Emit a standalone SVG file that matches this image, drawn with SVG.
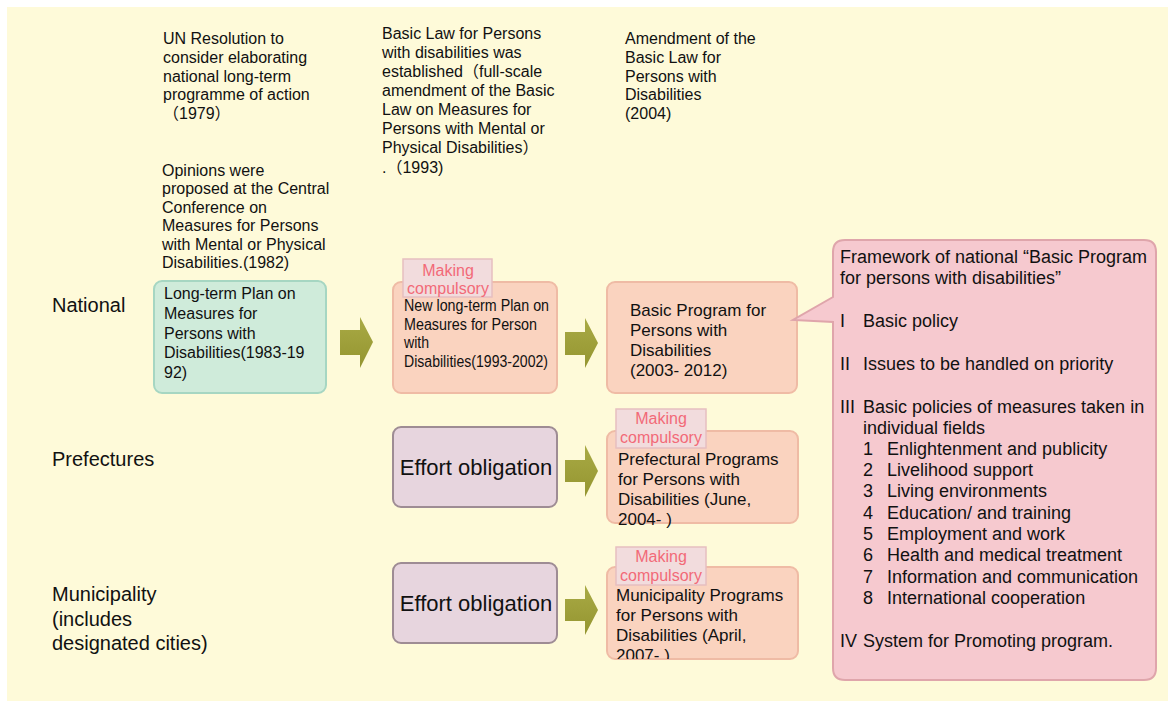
<svg xmlns="http://www.w3.org/2000/svg" width="1174" height="708" viewBox="0 0 1174 708">
<defs>
<style>
text{font-family:"Liberation Sans","Noto Sans CJK JP",Arial,sans-serif;fill:#111;}
.t16{font-size:16px;}
.t17{font-size:17px;}
.t18{font-size:18px;}
.t20{font-size:20px;}
.t22{font-size:22px;}
.green{fill:#CFEBDA;stroke:#A6D6C2;stroke-width:2;}
.peach{fill:#FAD3BF;stroke:#EFBBA5;stroke-width:2;}
.effort{fill:#E7D5DE;stroke:#9E8C94;stroke-width:2;}
.tag{fill:#F2DCDD;stroke:#E6BFC0;stroke-width:1.5;}
.tagt{font-size:16px;fill:#F26A78;text-anchor:middle;}
.callout{fill:#F6C9CF;stroke:#DFA5AB;stroke-width:2;}
.arrow{fill:url(#olive);}
</style>
<linearGradient id="olive" x1="0" y1="0" x2="0" y2="1">
<stop offset="0" stop-color="#A9AA45"/>
<stop offset="1" stop-color="#949530"/>
</linearGradient>
<clipPath id="muniClip"><rect x="600" y="560" width="210" height="99"/></clipPath>
</defs>
<rect x="0" y="0" width="1174" height="708" fill="#FFFFFF"/>
<rect x="7" y="7" width="1161" height="694" fill="#FEFAD9"/>

<g id="note-un">
<text class="t16" x="163" y="44">UN Resolution to</text>
<text class="t16" x="163" y="63">consider elaborating</text>
<text class="t16" x="163" y="82">national long-term</text>
<text class="t16" x="163" y="100">programme of action</text>
<text class="t16" x="163" y="119">（1979）</text>
</g>
<g id="note-opinions">
<text class="t16" x="162" y="176">Opinions were</text>
<text class="t16" x="162" y="194">proposed at the Central</text>
<text class="t16" x="162" y="213">Conference on</text>
<text class="t16" x="162" y="231">Measures for Persons</text>
<text class="t16" x="162" y="250">with Mental or Physical</text>
<text class="t16" x="162" y="268">Disabilities.(1982)</text>
</g>
<g id="note-basic-law">
<text class="t16" x="382" y="39">Basic Law for Persons</text>
<text class="t16" x="382" y="58">with disabilities was</text>
<text class="t16" x="382" y="77">established（full-scale</text>
<text class="t16" x="382" y="96">amendment of the Basic</text>
<text class="t16" x="382" y="115">Law on Measures for</text>
<text class="t16" x="382" y="134">Persons with Mental or</text>
<text class="t16" x="382" y="153">Physical Disabilities）</text>
<text class="t16" x="382" y="173">.（1993)</text>
</g>
<g id="note-amendment">
<text class="t16" x="625" y="44">Amendment of the</text>
<text class="t16" x="625" y="63">Basic Law for</text>
<text class="t16" x="625" y="82">Persons with</text>
<text class="t16" x="625" y="100">Disabilities</text>
<text class="t16" x="625" y="119">(2004)</text>
</g>

<g id="row-national"><text class="t20" x="52" y="312">National</text></g>
<g id="row-prefectures"><text class="t20" x="52" y="466">Prefectures</text></g>
<g id="row-municipality">
<text class="t20" x="52" y="601">Municipality</text>
<text class="t20" x="52" y="626">(includes</text>
<text class="t20" x="52" y="650">designated cities)</text>
</g>

<g id="connectors">
<path class="arrow" d="M340 330 H360 V317 L373 342 L360 368 V355 H340 Z"/>
<path class="arrow" d="M565 332 H585 V318 L598 343 L585 368 V355 H565 Z"/>
<path class="arrow" d="M565 460 H585 V445 L598 471 L585 497 V482 H565 Z"/>
<path class="arrow" d="M565 599 H585 V585 L598 610 L585 635 V621 H565 Z"/>
</g>

<g id="plan-1983">
<rect class="green" x="154" y="281" width="172" height="112" rx="8"/>
<text class="t16" x="164" y="299">Long-term Plan on</text>
<text class="t16" x="164" y="319">Measures for</text>
<text class="t16" x="164" y="339">Persons with</text>
<text class="t16" x="164" y="358">Disabilities(1983-19</text>
<text class="t16" x="164" y="378">92)</text>
</g>

<g id="plan-1993">
<rect class="peach" x="393" y="282" width="164" height="111" rx="8"/>
<rect class="tag" x="403" y="259" width="89" height="38"/>
<text class="tagt" x="448" y="276">Making</text>
<text class="tagt" x="448" y="294">compulsory</text>
<text class="t16" x="404" y="311" textLength="145" lengthAdjust="spacingAndGlyphs">New long-term Plan on</text>
<text class="t16" x="404" y="330" textLength="133" lengthAdjust="spacingAndGlyphs">Measures for Person</text>
<text class="t16" x="404" y="348" textLength="25" lengthAdjust="spacingAndGlyphs">with</text>
<text class="t16" x="404" y="367" textLength="144" lengthAdjust="spacingAndGlyphs">Disabilities(1993-2002)</text>
</g>

<g id="basic-program">
<rect class="peach" x="607" y="282" width="190" height="111" rx="8"/>
<text class="t17" x="630" y="316">Basic Program for</text>
<text class="t17" x="630" y="336">Persons with</text>
<text class="t17" x="630" y="356">Disabilities</text>
<text class="t17" x="630" y="376">(2003- 2012)</text>
</g>

<g id="effort-prefectures">
<rect class="effort" x="393" y="427" width="164" height="80" rx="8"/>
<text class="t22" x="476" y="475" text-anchor="middle">Effort obligation</text>
</g>

<g id="prefectural-programs">
<rect class="peach" x="607" y="431" width="191" height="92" rx="8"/>
<rect class="tag" x="616" y="409" width="90" height="39"/>
<text class="tagt" x="661" y="424">Making</text>
<text class="tagt" x="661" y="443">compulsory</text>
<text class="t17" x="618" y="465">Prefectural Programs</text>
<text class="t17" x="618" y="485">for Persons with</text>
<text class="t17" x="618" y="505">Disabilities (June,</text>
<text class="t17" x="618" y="525">2004- )</text>
</g>

<g id="effort-municipality">
<rect class="effort" x="393" y="563" width="164" height="80" rx="8"/>
<text class="t22" x="476" y="611" text-anchor="middle">Effort obligation</text>
</g>

<g id="municipality-programs">
<rect class="peach" x="607" y="567" width="191" height="92" rx="8"/>
<rect class="tag" x="616" y="547" width="90" height="38"/>
<text class="tagt" x="661" y="562">Making</text>
<text class="tagt" x="661" y="581">compulsory</text>
<g clip-path="url(#muniClip)">
<text class="t17" x="616" y="601">Municipality Programs</text>
<text class="t17" x="616" y="621">for Persons with</text>
<text class="t17" x="616" y="641">Disabilities (April,</text>
<text class="t17" x="616" y="661">2007- )</text>
</g>
</g>

<g id="framework">
<path class="callout" d="M845 240 H1144 Q1156 240 1156 252 V668 Q1156 680 1144 680 H845 Q833 680 833 668 V322 L793 320 L833 297 V252 Q833 240 845 240 Z"/>
<text class="t18" x="840" y="263">Framework of national “Basic Program</text>
<text class="t18" x="840" y="284">for persons with disabilities”</text>
<text class="t18" x="840" y="327">I</text><text class="t18" x="863" y="327">Basic policy</text>
<text class="t18" x="840" y="370">II</text><text class="t18" x="863" y="370">Issues to be handled on priority</text>
<text class="t18" x="840" y="413">III</text><text class="t18" x="863" y="413">Basic policies of measures taken in</text>
<text class="t18" x="863" y="434">individual fields</text>
<text class="t18" x="863" y="455">1</text><text class="t18" x="887" y="455">Enlightenment and publicity</text>
<text class="t18" x="863" y="476">2</text><text class="t18" x="887" y="476">Livelihood support</text>
<text class="t18" x="863" y="497">3</text><text class="t18" x="887" y="497">Living environments</text>
<text class="t18" x="863" y="519">4</text><text class="t18" x="887" y="519">Education/ and training</text>
<text class="t18" x="863" y="540">5</text><text class="t18" x="887" y="540">Employment and work</text>
<text class="t18" x="863" y="561">6</text><text class="t18" x="887" y="561">Health and medical treatment</text>
<text class="t18" x="863" y="583">7</text><text class="t18" x="887" y="583">Information and communication</text>
<text class="t18" x="863" y="604">8</text><text class="t18" x="887" y="604">International cooperation</text>
<text class="t18" x="840" y="647">IV</text><text class="t18" x="863" y="647">System for Promoting program.</text>
</g>
</svg>
